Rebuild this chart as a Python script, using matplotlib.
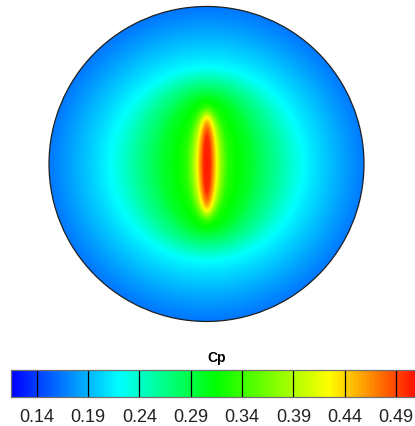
import numpy as np
import matplotlib
matplotlib.use("Agg")
import matplotlib.pyplot as plt
from matplotlib.colors import LinearSegmentedColormap, Normalize
from matplotlib.patches import Circle
import matplotlib.cm as cm

plt.rcParams['font.family'] = ['Liberation Sans', 'DejaVu Sans']

# Cp iso-levels around the slot: semi-axes (x, y) as a fraction of the disk radius
level_cp = [0.500, 0.470, 0.440, 0.410, 0.370, 0.330, 0.300, 0.260, 0.220, 0.190, 0.165]
level_ax = [0.022, 0.038, 0.054, 0.070, 0.095, 0.133, 0.279, 0.444, 0.616, 0.813, 1.003]
level_ay = [0.178, 0.241, 0.279, 0.305, 0.330, 0.368, 0.432, 0.521, 0.616, 0.800, 0.990]
cp_center = 0.51

# colour scale
cmap_values = [0.115, 0.22, 0.315, 0.425, 0.515]
cmap_colors = ['#0000ff', '#00ffff', '#00ff00', '#ffff00', '#ff0000']
cbar_ticks = [0.14, 0.19, 0.24, 0.29, 0.34, 0.39, 0.44, 0.49]

vmin, vmax = cmap_values[0], cmap_values[-1]
pos = [(v - vmin) / (vmax - vmin) for v in cmap_values]
cmap = LinearSegmentedColormap.from_list('cp', list(zip(pos, cmap_colors)))
norm = Normalize(vmin, vmax)

# build the field by interpolating between the nested ellipses
n = 700
xs = np.linspace(-1.02, 1.02, n)
X, Y = np.meshgrid(xs, xs)
ax_a = np.array(level_ax)[:, None, None]
ay_a = np.array(level_ay)[:, None, None]
cps = np.array(level_cp)
L = 0.5 * np.log((X / ax_a) ** 2 + (Y / ay_a) ** 2 + 1e-12)
cnt = (L > 0).sum(axis=0)
i = np.clip(cnt - 1, 0, len(cps) - 2)
li = np.take_along_axis(L, i[None], 0)[0]
lj = np.take_along_axis(L, (i + 1)[None], 0)[0]
f = np.clip(li / (li - lj + 1e-12), 0, 1)
Z = cps[i] + f * (cps[i + 1] - cps[i])
inner = cnt == 0
Z[inner] = cps[0] + (cp_center - cps[0]) * np.clip(-L[0][inner] / 3.0, 0, 1)
Z[cnt >= len(cps)] = cps[-1]

fig = plt.figure(figsize=(4.15, 4.27), dpi=100)
ax = fig.add_axes([0.1105, 0.2374, 0.7742, 0.7525])
im = ax.imshow(Z, extent=(-1.02, 1.02, -1.02, 1.02), origin='lower',
               cmap=cmap, norm=norm, interpolation='bilinear')
disk = Circle((0, 0), 1.0, transform=ax.transData, facecolor='none')
im.set_clip_path(disk)
ax.add_patch(Circle((0, 0), 1.0, facecolor='none', edgecolor='#202020', lw=0.9))
ax.set_xlim(-1.02, 1.02)
ax.set_ylim(-1.02, 1.02)
ax.set_aspect('equal')
ax.axis('off')

# colorbar
cax = fig.add_axes([0.0265, 0.0679, 0.99, 0.064])
sm = cm.ScalarMappable(norm=norm, cmap=cmap)
cb = fig.colorbar(sm, cax=cax, orientation='horizontal')
cb.set_ticks(cbar_ticks)
cb.set_ticklabels(['%.2f' % t for t in cbar_ticks])
cax.tick_params(length=0, labelsize=13, pad=8, labelcolor='#222222')
for t in cbar_ticks:
    cax.axvline(t, color='black', lw=0.9)
cb.outline.set_edgecolor('#707070')
cb.outline.set_linewidth(0.9)
cax.set_title('Cp', fontsize=10, fontweight='bold', pad=6)

fig.savefig('out.png', dpi=100)
